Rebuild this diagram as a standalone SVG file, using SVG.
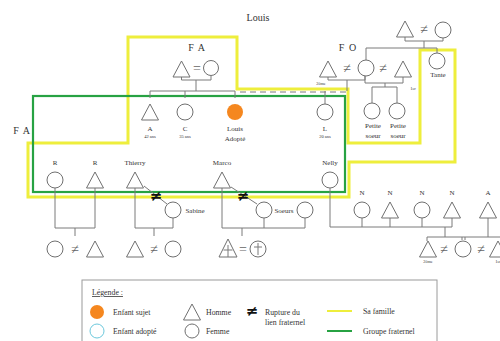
<svg xmlns="http://www.w3.org/2000/svg" width="500" height="341" viewBox="0 0 500 341">
<style>
.s{fill:#fff;stroke:#707070;stroke-width:1}
.l{fill:none;stroke:#7a7a7a;stroke-width:1}
.t{font-family:"Liberation Serif","DejaVu Serif",serif;fill:#333;text-anchor:middle}
.h{font-size:10px;letter-spacing:1px}
.n{font-size:7px}
.a{font-size:4.5px}
.ne{font-size:14px;fill:#666}
.rup{font-family:"DejaVu Sans",sans-serif;font-size:15px;font-weight:bold;fill:#111;text-anchor:middle}
.lg{font-family:"Liberation Serif","DejaVu Serif",serif;font-size:7.8px;fill:#333}
</style>
<defs>
<path id="tri" d="M0 0 L8.5 16 L-8.5 16 Z"/>
</defs>
<rect width="500" height="341" fill="#fff"/>

<g id="frames">
<polygon points="128,37 237,37 237,89 348,89 348,143 420,143 420,50 455,50 455,162 349,162 349,197 28,197 28,143 128,143" fill="none" stroke="#eeee3c" stroke-width="3"/>
<rect x="33" y="96" width="312" height="96" fill="none" stroke="#27a243" stroke-width="2.2"/>
</g>

<g id="connectors">
<path class="l" d="M181.5 76 V80 H211 V76 M196 80 V91 M150 98 V91 H235 V98 M185 91 V98"/>
<path class="l" d="M328 76 V80 H365 V76 M365 76 V83 H403 V77 M347 80 V91 M385 83 V87 M372 104 V87 H397 V104 M325 91 V104"/>
<path class="l" d="M240 92 H347" stroke-dasharray="6 4"/>
<path class="l" d="M405 37 V41 H443 V38 M424 41 V48 M366 60 V48 H437 V53"/>
<path class="l" d="M55 188 V228 H95 V188 M75 228 V236"/>
<path class="l" d="M135 188 V228 H173 V218 M154 228 V236 M144 186 L167 204"/>
<path class="l" d="M222 188 V228 H305 V218 M264 218 V228 M242 228 V236 M231 187 L257 204"/>
<path class="l" d="M330 188 V227 H452 M362 218 V227 M390 218 V227 M422 218 V227 M452 218 V227 M445 227 V237 M427 241 V237 H500 M462 237 V240 M465 237 V240 M488 218 V237"/>
</g>

<text class="t" x="258" y="21" font-size="10">Louis</text>

<g id="fa-parents">
<text class="t h" x="197" y="51">F A</text>
<use href="#tri" x="181.5" y="61" class="s"/>
<text class="t ne" x="197" y="73">=</text>
<circle class="s" cx="211" cy="68" r="7.5"/>
</g>
<g id="fa-left"><text class="t h" x="22" y="134">F A</text></g>
<g id="a"><use href="#tri" x="150" y="104" class="s"/><text class="t n" x="150" y="131">A</text><text class="t a" x="150" y="138">42 ans</text></g>
<g id="c"><circle class="s" cx="185" cy="112" r="8"/><text class="t n" x="185" y="131">C</text><text class="t a" x="185" y="138">35 ans</text></g>
<g id="louis"><circle cx="235" cy="112" r="8" fill="#f5871f"/><text class="t n" x="235" y="131">Louis</text><text class="t n" x="235" y="141">Adopté</text></g>
<g id="l"><circle class="s" cx="325" cy="112" r="8"/><text class="t n" x="325" y="131">L</text><text class="t a" x="325" y="138">20 ans</text></g>

<g id="fo">
<text class="t h" x="348" y="51">F O</text>
<use href="#tri" x="328" y="61" class="s"/>
<text class="t a" x="321" y="85">2ème</text>
<text class="t ne" x="347" y="73">≠</text>
<circle class="s" cx="366" cy="68" r="8"/>
<text class="t ne" x="383" y="73">≠</text>
<use href="#tri" x="403" y="61" class="s"/>
<text class="t a" x="413" y="90">1er</text>
</g>
<g id="grandparents">
<use href="#tri" x="405" y="21" class="s"/>
<text class="t ne" x="424" y="34">≠</text>
<circle class="s" cx="443" cy="30" r="8"/>
</g>
<g id="tante"><circle class="s" cx="437" cy="61" r="8"/><text class="t n" x="438" y="77">Tante</text></g>
<g id="petite1"><circle class="s" cx="372" cy="111" r="8"/><text class="t n" x="373" y="128">Petite</text><text class="t n" x="373" y="138">soeur</text></g>
<g id="petite2"><circle class="s" cx="397" cy="111" r="8"/><text class="t n" x="398" y="128">Petite</text><text class="t n" x="398" y="138">soeur</text></g>

<g id="r1"><circle class="s" cx="55" cy="180" r="8"/><text class="t n" x="55" y="165">R</text></g>
<g id="r2"><use href="#tri" x="95" y="172" class="s"/><text class="t n" x="95" y="165">R</text></g>
<g id="thierry"><use href="#tri" x="135" y="172" class="s"/><text class="t n" x="135" y="165">Thierry</text></g>
<g id="marco"><use href="#tri" x="222" y="172" class="s"/><text class="t n" x="222" y="165">Marco</text></g>
<g id="nelly"><circle class="s" cx="330" cy="180" r="8"/><text class="t n" x="330" y="165">Nelly</text></g>
<g id="sabine"><circle class="s" cx="173" cy="210" r="8"/><text class="t n" x="195" y="213">Sabine</text></g>
<g id="soeurs"><circle class="s" cx="264" cy="210" r="8"/><text class="t n" x="284" y="213">Soeurs</text><circle class="s" cx="305" cy="210" r="8"/></g>
<g id="ruptures"><text class="rup" x="156" y="201">≠</text><text class="rup" x="243" y="201">≠</text></g>

<g id="r-couple"><circle class="s" cx="55" cy="249" r="8"/><text class="t ne" x="75" y="254">≠</text><use href="#tri" x="95" y="241" class="s"/></g>
<g id="t-couple"><use href="#tri" x="135" y="241" class="s"/><text class="t ne" x="154" y="254">≠</text><circle class="s" cx="173" cy="249" r="8"/></g>
<g id="m-couple">
<path class="s" d="M228 239 L237 257 L219 257 Z"/><path class="l" d="M228 245 V257 M223.5 250 H232.5"/>
<text class="t ne" x="243" y="254">=</text>
<circle class="s" cx="258" cy="249" r="8"/><path class="l" d="M258 243 V255 M254 247 H262"/>
</g>

<g id="n1"><circle class="s" cx="362" cy="210" r="8"/><text class="t n" x="362" y="195">N</text></g>
<g id="n2"><use href="#tri" x="390" y="202" class="s"/><text class="t n" x="390" y="195">N</text></g>
<g id="n3"><circle class="s" cx="422" cy="210" r="8"/><text class="t n" x="422" y="195">N</text></g>
<g id="n4"><use href="#tri" x="452" y="202" class="s"/><text class="t n" x="452" y="195">N</text></g>
<g id="a2"><use href="#tri" x="488" y="202" class="s"/><text class="t n" x="488" y="195">A</text></g>
<g id="n-couple">
<use href="#tri" x="428" y="241" class="s"/><text class="t a" x="428" y="263">2ème</text>
<text class="t ne" x="444" y="254">≠</text>
<circle class="s" cx="463" cy="249" r="8"/>
<text class="t ne" x="481" y="254">≠</text>
<use href="#tri" x="498" y="241" class="s"/><text class="t a" x="498" y="263">1er</text>
</g>

<g id="legend">
<rect x="82" y="280" width="355" height="70" fill="#fff" stroke="#9a9a9a" stroke-width="1"/>
<text class="lg" x="92" y="295" font-size="10.5" text-decoration="underline">Légende :</text>
<circle cx="97" cy="312" r="7" fill="#f5871f"/>
<text class="lg" x="113" y="315">Enfant sujet</text>
<circle cx="97" cy="331" r="7" fill="#fff" stroke="#6cc8dc" stroke-width="1"/>
<text class="lg" x="113" y="334">Enfant adopté</text>
<use href="#tri" x="192" y="304" class="s"/>
<text class="lg" x="206" y="315">Homme</text>
<circle class="s" cx="192" cy="331" r="7"/>
<text class="lg" x="206" y="334">Femme</text>
<text class="rup" x="252" y="316">≠</text>
<text class="lg" x="265" y="315">Rupture du</text>
<text class="lg" x="265" y="325">lien fraternel</text>
<line x1="327" y1="311" x2="352" y2="311" stroke="#eeee3c" stroke-width="2"/>
<text class="lg" x="363" y="314">Sa famille</text>
<line x1="327" y1="331" x2="352" y2="331" stroke="#27a243" stroke-width="2"/>
<text class="lg" x="363" y="334">Groupe fraternel</text>
</g>
</svg>
